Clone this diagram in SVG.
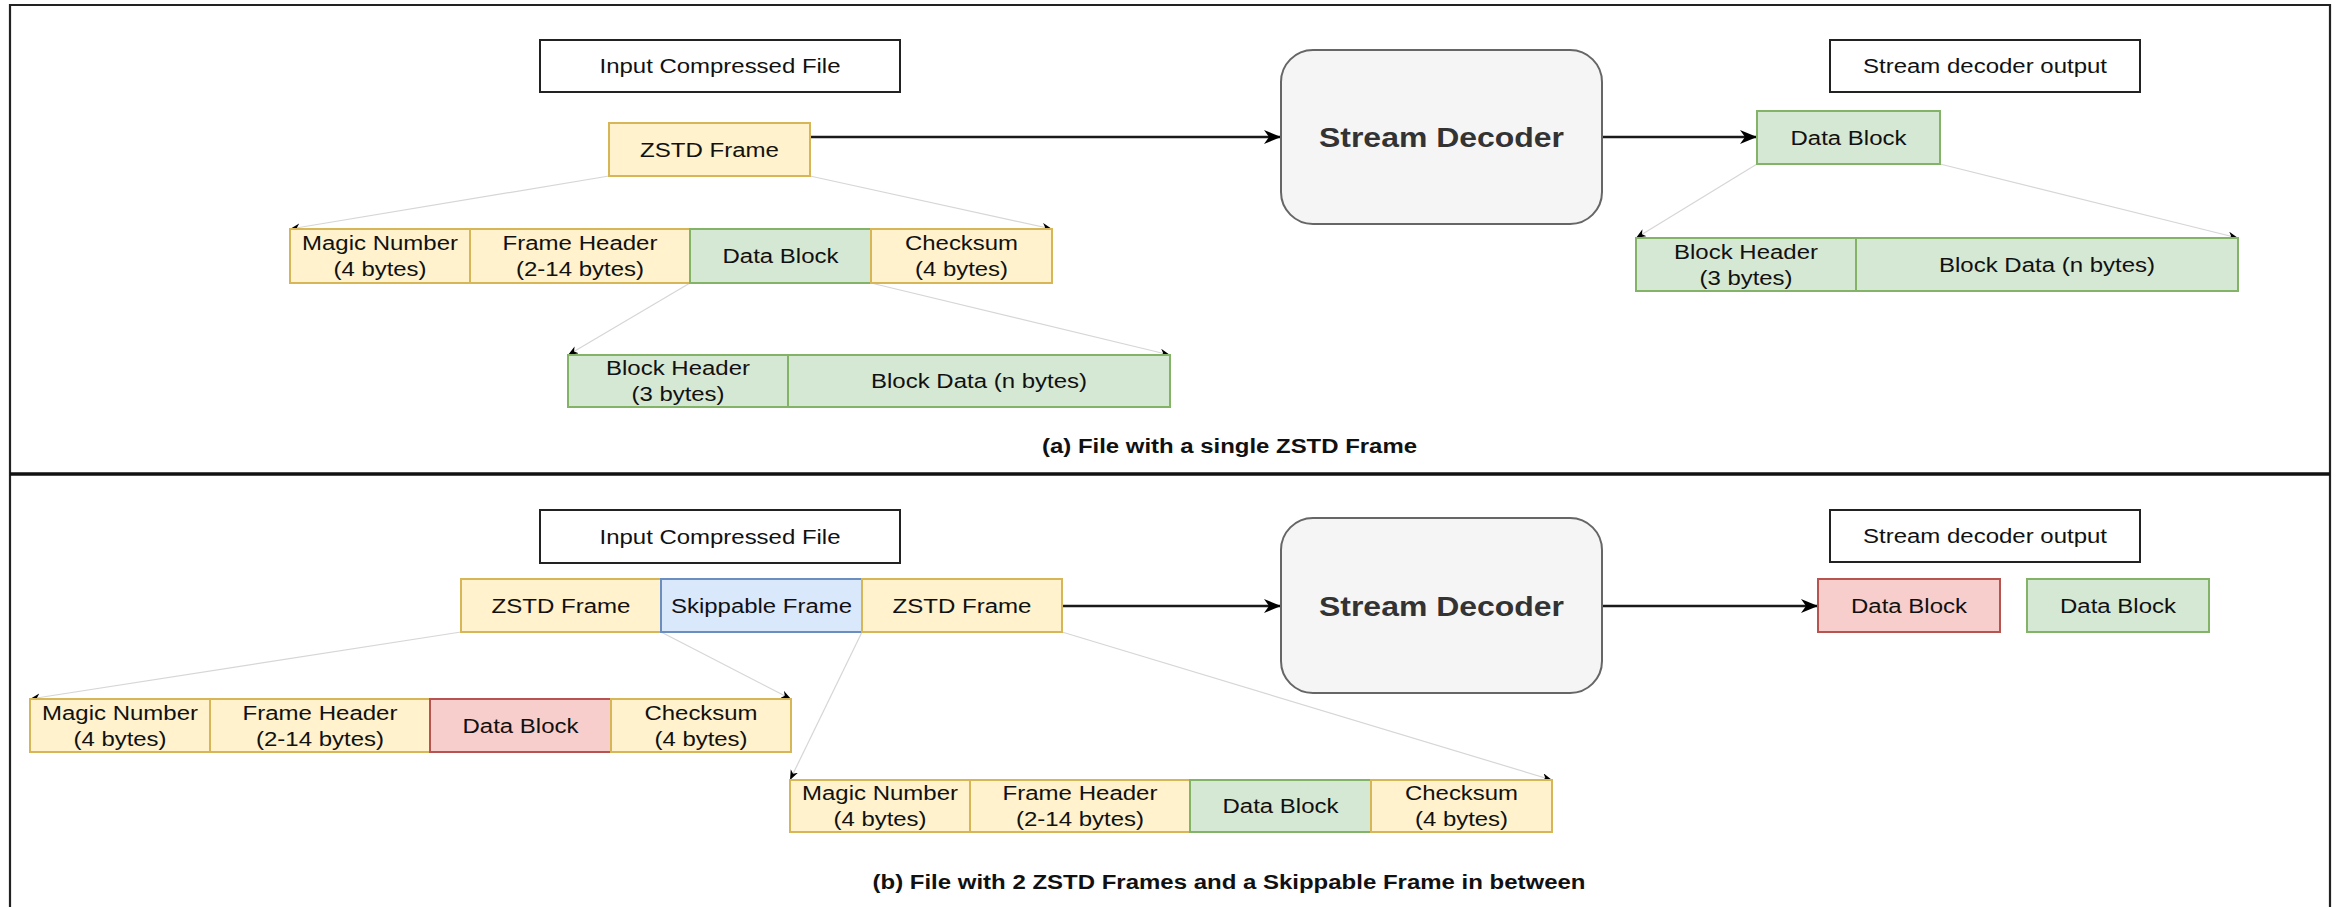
<svg xmlns="http://www.w3.org/2000/svg" width="2341" height="907" viewBox="0 0 2341 907">
<style>
.t{font-family:"Liberation Sans",Arial,sans-serif;font-size:20px;fill:#111;text-anchor:middle}
.cap{font-family:"Liberation Sans",Arial,sans-serif;font-size:20px;font-weight:bold;fill:#111;text-anchor:middle}
.sd{font-family:"Liberation Sans",Arial,sans-serif;font-size:28px;font-weight:bold;fill:#333;text-anchor:middle}
.lbl{fill:#fff;stroke:#222;stroke-width:2}
.y{fill:#fff2cc;stroke:#d6b656;stroke-width:2}
.g{fill:#d5e8d4;stroke:#82b366;stroke-width:2}
.r{fill:#f8cecc;stroke:#b85450;stroke-width:2}
.b{fill:#dae8fc;stroke:#6c8ebf;stroke-width:2}
.dec{fill:#f5f5f5;stroke:#666;stroke-width:2}
.thin{stroke:#d6d6d6;stroke-width:1.2;fill:none;marker-end:url(#sm)}
.main{stroke:#1a1a1a;stroke-width:2.5;fill:none;marker-end:url(#big)}
</style>
<defs>
<marker id="sm" markerUnits="userSpaceOnUse" markerWidth="11" markerHeight="9" refX="10" refY="4" orient="auto"><path d="M0,0 L10,4 L0,8 L3,4 z" fill="#000"/></marker>
<marker id="big" markerUnits="userSpaceOnUse" markerWidth="18" markerHeight="15" refX="17" refY="7" orient="auto"><path d="M0,0 L17,7 L0,14 L5,7 z" fill="#000"/></marker>
</defs>
<rect width="2341" height="907" fill="#fff"/>
<g id="frame">
<path d="M10,907 L10,5 L2330,5 L2330,907" fill="none" stroke="#222" stroke-width="2.2"/>
<line x1="10" y1="474" x2="2330" y2="474" stroke="#111" stroke-width="3.5"/>
</g>
<g id="connectors">
<line class="main" x1="810" y1="137" x2="1281" y2="137"/>
<line class="main" x1="1602" y1="137" x2="1757" y2="137"/>
<line class="main" x1="1062" y1="606" x2="1281" y2="606"/>
<line class="main" x1="1602" y1="606" x2="1818" y2="606"/>
<line class="thin" x1="609" y1="176" x2="290" y2="229"/>
<line class="thin" x1="810" y1="176" x2="1052" y2="229"/>
<line class="thin" x1="690" y1="283" x2="568" y2="355"/>
<line class="thin" x1="871" y1="283" x2="1170" y2="355"/>
<line class="thin" x1="1757" y1="164" x2="1636" y2="238"/>
<line class="thin" x1="1940" y1="164" x2="2238" y2="238"/>
<line class="thin" x1="461" y1="632" x2="30" y2="699"/>
<line class="thin" x1="661" y1="632" x2="791" y2="699"/>
<line class="thin" x1="862" y1="632" x2="790" y2="780"/>
<line class="thin" x1="1062" y1="632" x2="1552" y2="780"/>
</g>
<!-- Section (a) -->
<g id="a-input-label"><rect class="lbl" x="540" y="40" width="360" height="52"/><text class="t" x="720" y="73" textLength="241" lengthAdjust="spacingAndGlyphs">Input Compressed File</text></g>
<g id="a-zstd-frame"><rect class="y" x="609" y="123" width="201" height="53"/><text class="t" x="709.5" y="156.5" textLength="139" lengthAdjust="spacingAndGlyphs">ZSTD Frame</text></g>
<g id="a-magic"><rect class="y" x="290" y="229" width="180" height="54"/><text class="t" x="380" y="250" textLength="156" lengthAdjust="spacingAndGlyphs">Magic Number</text><text class="t" x="380" y="276" textLength="93" lengthAdjust="spacingAndGlyphs">(4 bytes)</text></g>
<g id="a-frame-header"><rect class="y" x="470" y="229" width="220" height="54"/><text class="t" x="580" y="250" textLength="155" lengthAdjust="spacingAndGlyphs">Frame Header</text><text class="t" x="580" y="276" textLength="128" lengthAdjust="spacingAndGlyphs">(2-14 bytes)</text></g>
<g id="a-data-block"><rect class="g" x="690" y="229" width="181" height="54"/><text class="t" x="780.5" y="263" textLength="116" lengthAdjust="spacingAndGlyphs">Data Block</text></g>
<g id="a-checksum"><rect class="y" x="871" y="229" width="181" height="54"/><text class="t" x="961.5" y="250" textLength="113" lengthAdjust="spacingAndGlyphs">Checksum</text><text class="t" x="961.5" y="276" textLength="93" lengthAdjust="spacingAndGlyphs">(4 bytes)</text></g>
<g id="a-block-header"><rect class="g" x="568" y="355" width="220" height="52"/><text class="t" x="678" y="375" textLength="144" lengthAdjust="spacingAndGlyphs">Block Header</text><text class="t" x="678" y="401" textLength="93" lengthAdjust="spacingAndGlyphs">(3 bytes)</text></g>
<g id="a-block-data"><rect class="g" x="788" y="355" width="382" height="52"/><text class="t" x="979" y="388" textLength="216" lengthAdjust="spacingAndGlyphs">Block Data (n bytes)</text></g>
<g id="a-decoder"><rect class="dec" x="1281" y="50" width="321" height="174" rx="32"/><text class="sd" x="1441.5" y="147" textLength="245" lengthAdjust="spacingAndGlyphs">Stream Decoder</text></g>
<g id="a-output-label"><rect class="lbl" x="1830" y="40" width="310" height="52"/><text class="t" x="1985" y="73" textLength="244" lengthAdjust="spacingAndGlyphs">Stream decoder output</text></g>
<g id="a-out-data-block"><rect class="g" x="1757" y="111" width="183" height="53"/><text class="t" x="1848.5" y="144.5" textLength="116" lengthAdjust="spacingAndGlyphs">Data Block</text></g>
<g id="a-out-block-header"><rect class="g" x="1636" y="238" width="220" height="53"/><text class="t" x="1746" y="258.5" textLength="144" lengthAdjust="spacingAndGlyphs">Block Header</text><text class="t" x="1746" y="284.5" textLength="93" lengthAdjust="spacingAndGlyphs">(3 bytes)</text></g>
<g id="a-out-block-data"><rect class="g" x="1856" y="238" width="382" height="53"/><text class="t" x="2047" y="271.5" textLength="216" lengthAdjust="spacingAndGlyphs">Block Data (n bytes)</text></g>
<g id="a-caption"><text class="cap" x="1229.5" y="453" textLength="375" lengthAdjust="spacingAndGlyphs">(a) File with a single ZSTD Frame</text></g>
<!-- Section (b) -->
<g id="b-input-label"><rect class="lbl" x="540" y="510" width="360" height="53"/><text class="t" x="720" y="543.5" textLength="241" lengthAdjust="spacingAndGlyphs">Input Compressed File</text></g>
<g id="b-zstd-frame-1"><rect class="y" x="461" y="579" width="200" height="53"/><text class="t" x="561" y="612.5" textLength="139" lengthAdjust="spacingAndGlyphs">ZSTD Frame</text></g>
<g id="b-skippable"><rect class="b" x="661" y="579" width="201" height="53"/><text class="t" x="761.5" y="612.5" textLength="181" lengthAdjust="spacingAndGlyphs">Skippable Frame</text></g>
<g id="b-zstd-frame-2"><rect class="y" x="862" y="579" width="200" height="53"/><text class="t" x="962" y="612.5" textLength="139" lengthAdjust="spacingAndGlyphs">ZSTD Frame</text></g>
<g id="b1-magic"><rect class="y" x="30" y="699" width="180" height="53"/><text class="t" x="120" y="719.5" textLength="156" lengthAdjust="spacingAndGlyphs">Magic Number</text><text class="t" x="120" y="745.5" textLength="93" lengthAdjust="spacingAndGlyphs">(4 bytes)</text></g>
<g id="b1-frame-header"><rect class="y" x="210" y="699" width="220" height="53"/><text class="t" x="320" y="719.5" textLength="155" lengthAdjust="spacingAndGlyphs">Frame Header</text><text class="t" x="320" y="745.5" textLength="128" lengthAdjust="spacingAndGlyphs">(2-14 bytes)</text></g>
<g id="b1-data-block"><rect class="r" x="430" y="699" width="181" height="53"/><text class="t" x="520.5" y="732.5" textLength="116" lengthAdjust="spacingAndGlyphs">Data Block</text></g>
<g id="b1-checksum"><rect class="y" x="611" y="699" width="180" height="53"/><text class="t" x="701" y="719.5" textLength="113" lengthAdjust="spacingAndGlyphs">Checksum</text><text class="t" x="701" y="745.5" textLength="93" lengthAdjust="spacingAndGlyphs">(4 bytes)</text></g>
<g id="b2-magic"><rect class="y" x="790" y="780" width="180" height="52"/><text class="t" x="880" y="800" textLength="156" lengthAdjust="spacingAndGlyphs">Magic Number</text><text class="t" x="880" y="826" textLength="93" lengthAdjust="spacingAndGlyphs">(4 bytes)</text></g>
<g id="b2-frame-header"><rect class="y" x="970" y="780" width="220" height="52"/><text class="t" x="1080" y="800" textLength="155" lengthAdjust="spacingAndGlyphs">Frame Header</text><text class="t" x="1080" y="826" textLength="128" lengthAdjust="spacingAndGlyphs">(2-14 bytes)</text></g>
<g id="b2-data-block"><rect class="g" x="1190" y="780" width="181" height="52"/><text class="t" x="1280.5" y="813" textLength="116" lengthAdjust="spacingAndGlyphs">Data Block</text></g>
<g id="b2-checksum"><rect class="y" x="1371" y="780" width="181" height="52"/><text class="t" x="1461.5" y="800" textLength="113" lengthAdjust="spacingAndGlyphs">Checksum</text><text class="t" x="1461.5" y="826" textLength="93" lengthAdjust="spacingAndGlyphs">(4 bytes)</text></g>
<g id="b-decoder"><rect class="dec" x="1281" y="518" width="321" height="175" rx="32"/><text class="sd" x="1441.5" y="616" textLength="245" lengthAdjust="spacingAndGlyphs">Stream Decoder</text></g>
<g id="b-output-label"><rect class="lbl" x="1830" y="510" width="310" height="52"/><text class="t" x="1985" y="543" textLength="244" lengthAdjust="spacingAndGlyphs">Stream decoder output</text></g>
<g id="b-out-red-block"><rect class="r" x="1818" y="579" width="182" height="53"/><text class="t" x="1909" y="612.5" textLength="116" lengthAdjust="spacingAndGlyphs">Data Block</text></g>
<g id="b-out-green-block"><rect class="g" x="2027" y="579" width="182" height="53"/><text class="t" x="2118" y="612.5" textLength="116" lengthAdjust="spacingAndGlyphs">Data Block</text></g>
<g id="b-caption"><text class="cap" x="1229" y="889" textLength="713" lengthAdjust="spacingAndGlyphs">(b) File with 2 ZSTD Frames and a Skippable Frame in between</text></g>
</svg>
